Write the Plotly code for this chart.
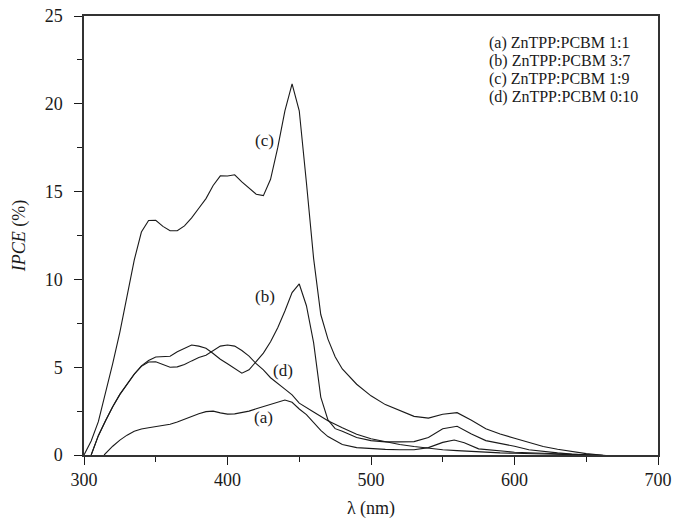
import plotly.graph_objects as go

# ---- data ----
wl_c = [300, 305, 310, 315, 320, 325, 330, 335, 340, 345, 350, 355, 360, 365, 370, 375, 380, 385, 390, 395,
        400, 405, 410, 415, 420, 425, 430, 435, 440, 445, 450, 455, 460, 465, 470, 475, 480, 490, 500, 510,
        520, 530, 540, 550, 560, 570, 580, 590, 600, 610, 620, 630, 640, 650, 660, 670, 680, 690, 700]
ipce_c = [0.0, 0.8, 1.9, 3.5, 5.2, 7.0, 9.0, 11.1, 12.7, 13.35, 13.37, 13.02, 12.77, 12.77, 13.05, 13.5, 14.05, 14.6, 15.35, 15.9,
          15.89, 15.96, 15.55, 15.2, 14.85, 14.77, 15.7, 17.5, 19.6, 21.13, 19.6, 15.5, 11.2, 8.0, 6.6, 5.6, 4.9, 4.03, 3.37, 2.87,
          2.52, 2.2, 2.1, 2.32, 2.41, 1.98, 1.5, 1.2, 0.95, 0.7, 0.48, 0.33, 0.2, 0.08, 0.0, -0.08, -0.15, -0.25, -0.4]

wl_b = [305, 310, 315, 320, 325, 330, 335, 340, 345, 350, 355, 360, 365, 370, 375, 380, 385, 390, 395, 400,
        405, 410, 415, 420, 425, 430, 435, 440, 445, 450, 455, 460, 465, 470, 475, 480, 490, 500, 510, 520,
        530, 540, 550, 560, 570, 580, 590, 600, 610, 620, 630, 640, 650, 660, 670, 680, 690, 700]
ipce_b = [0.0, 1.1, 1.95, 2.75, 3.45, 4.05, 4.6, 5.08, 5.38, 5.58, 5.62, 5.62, 5.88, 6.05, 6.26, 6.2, 6.08, 5.78, 5.45, 5.2,
          4.95, 4.66, 4.85, 5.3, 5.8, 6.45, 7.25, 8.2, 9.25, 9.74, 8.5, 6.4, 3.3, 2.0, 1.5, 1.35, 1.0, 0.82, 0.75, 0.75,
          0.76, 1.0, 1.5, 1.64, 1.2, 0.82, 0.68, 0.5, 0.3, 0.2, 0.12, 0.05, 0.02, -0.02, -0.08, -0.15, -0.25, -0.38]

wl_d = [305, 310, 315, 320, 325, 330, 335, 340, 345, 350, 355, 360, 365, 370, 375, 380, 385, 390, 395, 400,
        405, 410, 415, 420, 425, 430, 435, 440, 445, 450, 460, 470, 480, 490, 500, 510, 520, 530, 540, 550,
        560, 570, 580, 590, 600, 620, 640, 660, 680, 700]
ipce_d = [0.0, 1.1, 1.95, 2.75, 3.45, 4.05, 4.6, 5.05, 5.3, 5.31, 5.15, 5.0, 5.02, 5.15, 5.36, 5.55, 5.68, 5.95, 6.2, 6.26,
          6.2, 5.95, 5.63, 5.2, 4.85, 4.4, 4.05, 3.75, 3.42, 2.95, 2.45, 1.95, 1.55, 1.18, 0.92, 0.75, 0.6, 0.48, 0.38, 0.3,
          0.25, 0.2, 0.16, 0.12, 0.1, 0.06, 0.03, -0.02, -0.12, -0.35]

wl_a = [314, 320, 325, 330, 335, 340, 345, 350, 355, 360, 365, 370, 375, 380, 385, 390, 395, 400, 405, 410,
        415, 420, 425, 430, 435, 440, 445, 450, 455, 460, 465, 470, 475, 480, 490, 500, 510, 520, 530, 540,
        550, 558, 565, 575, 590, 600, 620, 640, 660, 680, 700]
ipce_a = [0.0, 0.5, 0.85, 1.13, 1.35, 1.48, 1.55, 1.61, 1.67, 1.75, 1.88, 2.05, 2.2, 2.35, 2.47, 2.5, 2.4, 2.33, 2.34, 2.4,
          2.5, 2.63, 2.76, 2.88, 3.0, 3.13, 3.0, 2.62, 2.3, 1.88, 1.4, 1.05, 0.8, 0.6, 0.42, 0.35, 0.32, 0.3, 0.3, 0.42,
          0.72, 0.85, 0.7, 0.35, 0.22, 0.16, 0.1, 0.05, -0.02, -0.12, -0.32]

series = [("(a)", wl_a, ipce_a), ("(b)", wl_b, ipce_b), ("(c)", wl_c, ipce_c), ("(d)", wl_d, ipce_d)]

legend_lines = ["(a) ZnTPP:PCBM 1:1", "(b) ZnTPP:PCBM 3:7", "(c) ZnTPP:PCBM 1:9", "(d) ZnTPP:PCBM 0:10"]

# curve label positions (wavelength, IPCE)
curve_labels = ["(c)", "(b)", "(d)", "(a)"]
label_x = [426, 426, 439, 425]
label_y = [17.9, 9.0, 4.8, 2.15]

x_ticks = [300, 400, 500, 600, 700]
y_ticks = [0, 5, 10, 15, 20, 25]

FONT = "Liberation Serif, Times New Roman, serif"
INK = "#1a1a1a"

W, H = 689, 521
L, R, T, B = 84, 31, 16, 66
pw, ph = W - L - R, H - T - B

fig = go.Figure()
for name, xs, ys in series:
    fig.add_trace(go.Scatter(x=xs, y=ys, mode="lines", name=name,
                             line=dict(color=INK, width=1.1), showlegend=False))

for t, lx, ly in zip(curve_labels, label_x, label_y):
    fig.add_annotation(x=lx, y=ly, xref="x", yref="y", text=t, showarrow=False,
                       font=dict(family=FONT, size=17, color=INK))

# legend block (top right, text only), pixel positions converted to paper coords
for i, t in enumerate(legend_lines):
    px, py = 487, 43 + 18 * i
    fig.add_annotation(x=(px - L) / pw, y=1 - (py - T) / ph, xref="paper", yref="paper", text=t,
                       showarrow=False, xanchor="left", yanchor="middle",
                       font=dict(family=FONT, size=16, color=INK))

fig.update_layout(
    width=W, height=H,
    margin=dict(l=L, r=R, t=T, b=B, autoexpand=False),
    paper_bgcolor="white", plot_bgcolor="white",
    font=dict(family=FONT, color=INK),
    xaxis=dict(range=[300, 700], tickvals=x_ticks, ticks="outside", ticklen=8, tickwidth=1.2,
               tickcolor=INK, showline=True, linecolor="#333", linewidth=1.5, mirror=True,
               showgrid=False, zeroline=False, tickfont=dict(family=FONT, size=18, color=INK),
               automargin=False,
               minor=dict(ticks="outside", ticklen=5, tickwidth=1, tickcolor=INK, dtick=50, showgrid=False),
               title=dict(text="λ (nm)", font=dict(family=FONT, size=18, color=INK), standoff=12)),
    yaxis=dict(range=[0, 25], tickvals=y_ticks, ticks="outside", ticklen=8, tickwidth=1.2,
               tickcolor=INK, showline=True, linecolor="#333", linewidth=1.5, mirror=True,
               showgrid=False, zeroline=False, tickfont=dict(family=FONT, size=18, color=INK),
               ticklabelstandoff=8, automargin=False,
               minor=dict(ticks="outside", ticklen=5, tickwidth=1, tickcolor=INK, dtick=2.5, showgrid=False),
               title=dict(text="<i>IPCE</i> (%)", font=dict(family=FONT, size=18, color=INK), standoff=14)),
)

fig.write_html("out.html")
